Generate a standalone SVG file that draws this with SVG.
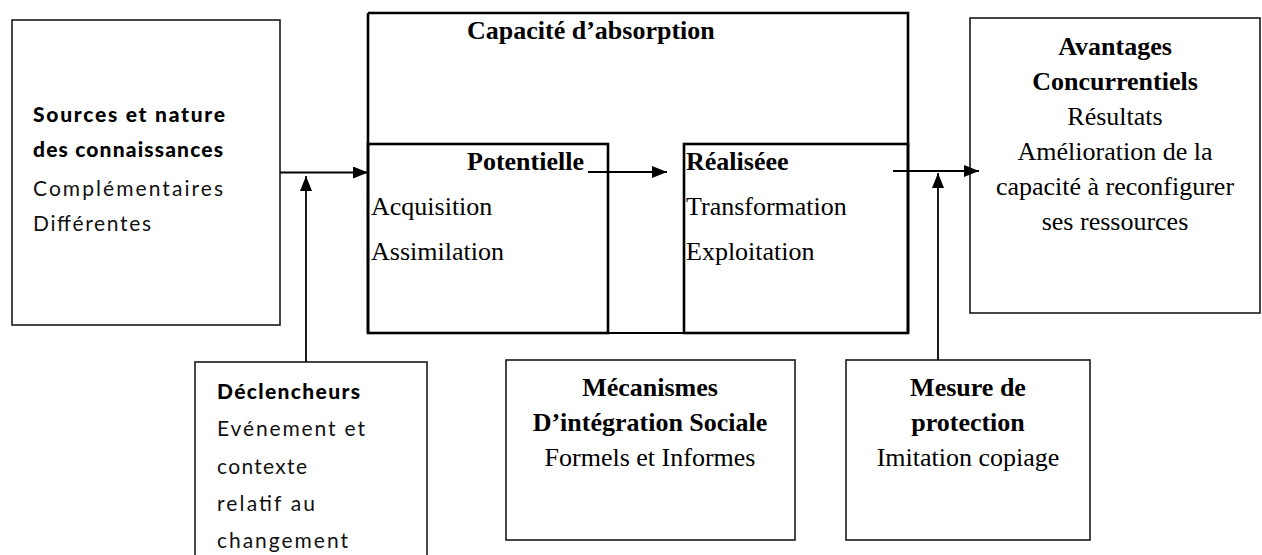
<svg xmlns="http://www.w3.org/2000/svg" width="1262" height="555" viewBox="0 0 1262 555">
  <style>
    .box { fill: #fff; stroke: #1a1a1a; stroke-width: 1.6; }
    .thick { fill: none; stroke: #000; stroke-width: 2.6; }
    .link { fill: none; stroke: #000; stroke-width: 1.8; marker-end: url(#arrow); }
    .serif { font-family: "Liberation Serif", "Times New Roman", serif; font-size: 26px; fill: #000; }
    .serif.b { font-weight: bold; }
    .sans { font-family: Lato, "Open Sans", sans-serif; font-size: 21px; fill: #111; }
    .sans.b { font-weight: 900; fill: #000; }
    .mid { text-anchor: middle; }
  </style>
  <defs>
    <marker id="arrow" markerUnits="userSpaceOnUse" markerWidth="15" markerHeight="12" refX="15" refY="6" orient="auto">
      <path d="M0,0 L15,6 L0,12 z" fill="#000"/>
    </marker>
  </defs>

  <rect width="1262" height="555" fill="#fff"/>

  <!-- knowledge sources -->
  <g id="sources">
    <rect class="box" x="12" y="20" width="268" height="305"/>
    <text class="sans b" x="33" y="122" textLength="192" lengthAdjust="spacing">Sources et nature</text>
    <text class="sans b" x="33" y="157" textLength="190" lengthAdjust="spacing">des connaissances</text>
    <text class="sans" x="33" y="196" textLength="190" lengthAdjust="spacing">Complémentaires</text>
    <text class="sans" x="33" y="231" textLength="118" lengthAdjust="spacing">Différentes</text>
  </g>

  <!-- absorptive capacity with its two stages -->
  <g id="capacite">
    <path d="M368,13 H908 V333" class="thick"/>
    <path d="M368,13 V333" class="thick"/>
    <path d="M368,333 H908" fill="none" stroke="#000" stroke-width="1.8"/>
    <text class="serif b" x="467" y="39">Capacité d’absorption</text>
  </g>
  <g id="potentielle">
    <rect class="thick" x="368" y="144" width="240" height="189"/>
    <text class="serif b" x="467" y="170">Potentielle</text>
    <text class="serif" x="371" y="215">Acquisition</text>
    <text class="serif" x="371" y="260">Assimilation</text>
  </g>
  <g id="realisee">
    <rect class="thick" x="684" y="144" width="224" height="189"/>
    <text class="serif b" x="686" y="170">Réaliséee</text>
    <text class="serif" x="686" y="215">Transformation</text>
    <text class="serif" x="686" y="260">Exploitation</text>
  </g>

  <!-- outcomes -->
  <g id="avantages">
    <rect class="box" x="970" y="18" width="290" height="295"/>
    <text class="serif b mid" x="1115" y="55">Avantages</text>
    <text class="serif b mid" x="1115" y="90">Concurrentiels</text>
    <text class="serif mid" x="1115" y="125">Résultats</text>
    <text class="serif mid" x="1115" y="160">Amélioration de la</text>
    <text class="serif mid" x="1115" y="195">capacité à reconfigurer</text>
    <text class="serif mid" x="1115" y="230">ses ressources</text>
  </g>

  <!-- triggers -->
  <g id="declencheurs">
    <rect class="box" x="195" y="362" width="232" height="200"/>
    <text class="sans b" x="217" y="399" textLength="143" lengthAdjust="spacing">Déclencheurs</text>
    <text class="sans" x="217" y="436" textLength="148" lengthAdjust="spacing">Evénement  et</text>
    <text class="sans" x="217" y="474" textLength="90" lengthAdjust="spacing">contexte</text>
    <text class="sans" x="217" y="511" textLength="98" lengthAdjust="spacing">relatif au</text>
    <text class="sans" x="217" y="548" textLength="131" lengthAdjust="spacing">changement</text>
  </g>

  <!-- social integration mechanisms -->
  <g id="mecanismes">
    <rect class="box" x="506" y="360" width="289" height="180"/>
    <text class="serif b mid" x="650" y="396">Mécanismes</text>
    <text class="serif b mid" x="650" y="431">D’intégration Sociale</text>
    <text class="serif mid" x="650" y="466">Formels et Informes</text>
  </g>

  <!-- protection -->
  <g id="protection">
    <rect class="box" x="846" y="360" width="244" height="180"/>
    <text class="serif b mid" x="968" y="396">Mesure de</text>
    <text class="serif b mid" x="968" y="431">protection</text>
    <text class="serif mid" x="968" y="466">Imitation copiage</text>
  </g>

  <!-- connectors -->
  <g id="connectors">
    <path class="link" d="M280,172.5 H368"/>
    <path class="link" d="M306,362 V176"/>
    <path class="link" d="M588,172 H667"/>
    <path class="link" d="M893,171 H979"/>
    <path class="link" d="M938,360 V173"/>
  </g>
</svg>
